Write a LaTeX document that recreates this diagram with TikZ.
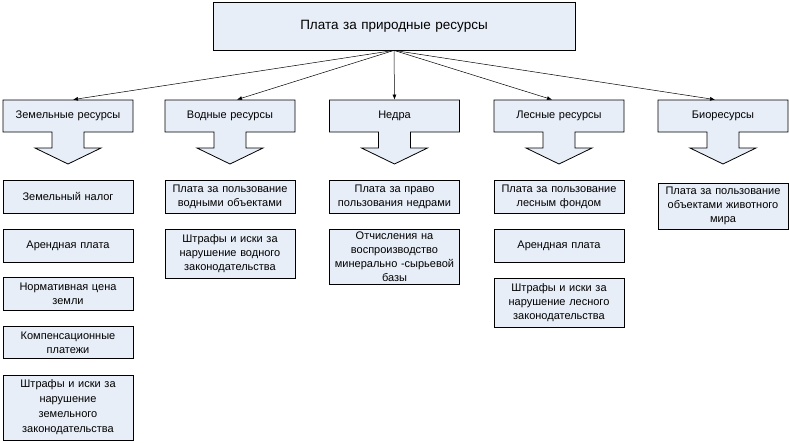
\documentclass[tikz,border=0pt]{standalone}
\usepackage{fontspec}
\setmainfont{Liberation Sans}
\usepackage{xcolor}
\definecolor{boxfill}{RGB}{232, 238, 248}
\usetikzlibrary{arrows.meta}

\tikzset{
  box/.style={draw=black,fill=boxfill,line width=0.8pt,minimum width=130pt,
    minimum height=33pt,text width=128pt,align=center,inner sep=1pt,
    font=\fontsize{11}{14}\selectfont},
  cat/.style={box,draw=none,fill=none,minimum height=32pt},
  callout/.style={draw=black,fill=boxfill,line width=0.8pt},
  link/.style={-{Latex[length=5pt,width=4pt]},line width=0.5pt}
}

\begin{document}
\begin{tikzpicture}[x=1pt,y=1pt]
\useasboundingbox
  (0,0) rectangle (789,-442);

\node[box,minimum width=362pt,minimum height=48pt,text width=350pt,
  font=\fontsize{13.5}{16}\selectfont] (plata) at (394,-26)
  {Плата за природные ресурсы};

\foreach \name/\x/\shift/\label in {zem/68/5/Земельные ресурсы,
    vod/230/7/Водные ресурсы, nedra/394.5/0/Недра,
    les/559/-7/Лесные ресурсы, bio/723/-8/Биоресурсы}{
  \draw[callout] (\x-65,-100) -- (\x+65,-100) -- (\x+65,-132)
    -- (\x+16,-132) -- (\x+16,-148) -- (\x+33,-148) -- (\x,-164)
    -- (\x-33,-148) -- (\x-16,-148) -- (\x-16,-132) -- (\x-65,-132) -- cycle;
  \node[cat] (\name) at (\x,-116) {\label};
  \draw[link] (plata.south) -- ([xshift=\shift]\name.north);
}

\node[box] (zemnalog) at (68,-196.5) {Земельный налог};
\node[box] (zemarenda) at (68,-245.5) {Арендная плата};
\node[box] (zemcena) at (68,-294) {Нормативная цена\\земли};
\node[box,minimum height=32pt] (zemkomp) at (68,-342.5)
  {Компенсационные\\платежи};
\node[box,minimum height=65pt,font=\fontsize{11}{15}\selectfont]
  (zemshtraf) at (68,-407.5)
  {Штрафы и иски за\\нарушение\\земельного\\законодательства};

\node[box] (vodplata) at (230,-196.5)
  {Плата за пользование\\водными объектами};
\node[box,minimum height=49pt] (vodshtraf) at (230,-253.5)
  {Штрафы и иски за\\нарушение водного\\законодательства};

\node[box] (nedraplata) at (394.5,-196.5)
  {Плата за право\\пользования недрами};
\node[box,minimum height=55pt] (nedraotch) at (394.5,-256.5)
  {Отчисления на\\воспроизводство\\минерально -сырьевой\\базы};

\node[box] (lesplata) at (559,-196.5)
  {Плата за пользование\\лесным фондом};
\node[box] (lesarenda) at (559,-245.5) {Арендная плата};
\node[box,minimum height=49pt] (lesshtraf) at (559,-302.5)
  {Штрафы и иски за\\нарушение лесного\\законодательства};

\node[box,minimum height=46pt] (bioplata) at (723,-206)
  {Плата за пользование\\объектами животного\\мира};
\end{tikzpicture}
\end{document}
